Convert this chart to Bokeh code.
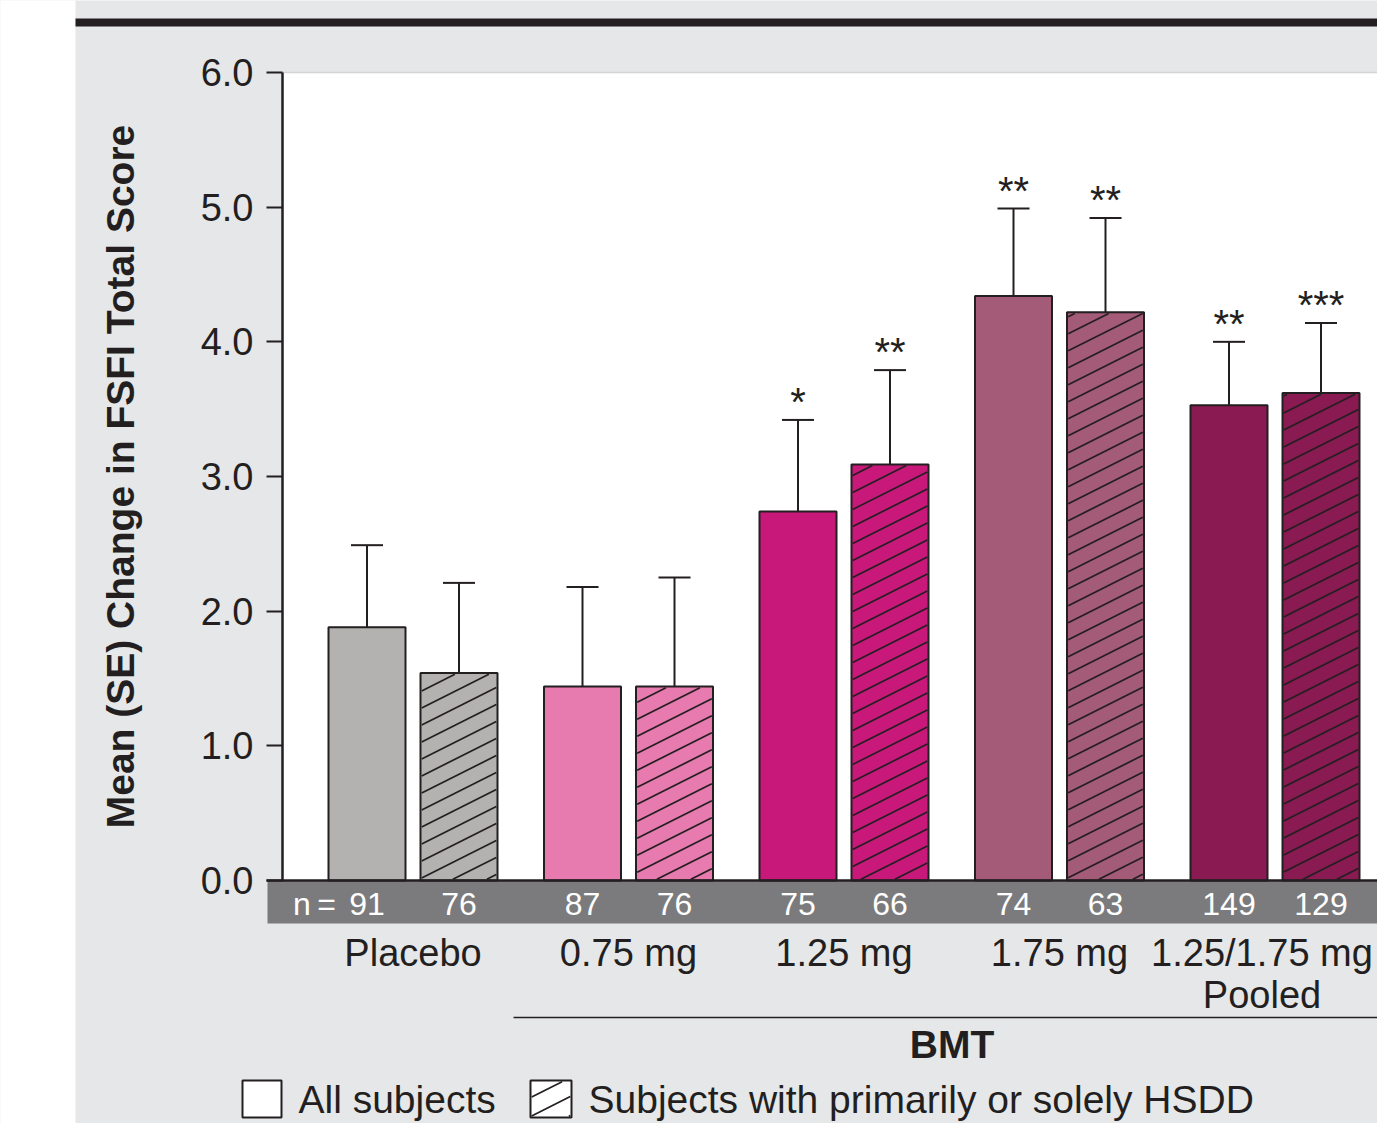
import numpy as np
from bokeh.plotting import figure
from bokeh.models import (Range1d, LinearAxis, FixedTicker, ColumnDataSource, Whisker, TeeHead,
                          NumeralTickFormatter)
from bokeh.core.properties import value
from bokeh.embed import file_html
from bokeh.resources import INLINE

# ---------------- data ----------------
GROUPS = ["Placebo", "0.75 mg", "1.25 mg", "1.75 mg", "1.25/1.75 mg\nPooled"]
MEAN_ALL = [1.88, 1.44, 2.74, 4.34, 3.53]
SE_ALL = [0.61, 0.74, 0.68, 0.65, 0.47]
MEAN_HSDD = [1.54, 1.44, 3.09, 4.22, 3.62]
SE_HSDD = [0.67, 0.81, 0.70, 0.70, 0.52]
N_ALL = [91, 87, 75, 74, 149]
N_HSDD = [76, 76, 66, 63, 129]
SIG_ALL = ["", "", "*", "**", "**"]
SIG_HSDD = ["", "", "**", "**", "***"]
BAR_COLORS = ["#b3b2b1", "#e77aae", "#c8197b", "#a35b78", "#891a52"]
Y_TICKS = [0.0, 1.0, 2.0, 3.0, 4.0, 5.0, 6.0]
Y_LABEL = "Mean (SE) Change in FSFI Total Score"
BRACKET_LABEL = "BMT"
LEGEND_LABELS = ["All subjects", "Subjects with primarily or solely HSDD"]

# ---------------- layout helpers ----------------
X0, GS = 412.5, 215.5          # pixel centre of first group, pixel spacing of groups
Y0, YS = 880.0, 808.0 / 6.0    # pixel of value 0, pixels per unit
W, H = 1377, 1123
FONT = value("Liberation Sans")
INK = "#231f20"


def gx(px):
    return (px - X0) / GS


def gw(px):
    return px / GS


def vy(py):
    return (Y0 - py) / YS


def px_x(x):
    return X0 + x * GS


def px_y(y):
    return Y0 - y * YS


def hatch_segments(L, R, T, B, spacing, slope=0.5, inset=1.2, phase=0.0):
    """Diagonal hatch lines (rising to the right) clipped to a pixel rectangle."""
    L, R, T, B = L + inset, R - inset, T + inset, B - inset
    out = [[], [], [], []]
    kmin = int(np.floor((slope * L + T - phase) / spacing)) - 1
    kmax = int(np.ceil((slope * R + B - phase) / spacing)) + 1
    for k in range(kmin, kmax + 1):
        c = k * spacing + phase
        xa = max(L, (c - B) / slope)
        xb = min(R, (c - T) / slope)
        if xb - xa > 0.5:
            out[0].append(gx(xa)); out[1].append(vy(c - slope * xa))
            out[2].append(gx(xb)); out[3].append(vy(c - slope * xb))
    return out


idx = np.arange(len(GROUPS), dtype=float)
DX = gw(46)
BW = gw(77)
x_all = idx - DX
x_hs = idx + DX

p = figure(width=W, height=H,
           x_range=Range1d(gx(0), gx(W)),
           y_range=Range1d(vy(H), vy(0)),
           x_axis_type=None, y_axis_type=None,
           toolbar_location=None, output_backend="svg", min_border=0)
p.background_fill_color = "#e6e7e9"
p.border_fill_color = "#ffffff"
p.outline_line_color = None

# page pieces
p.quad(left=[gx(-20)], right=[gx(75)], bottom=[vy(1300)], top=[vy(-20)],
       fill_color="#ffffff", line_color=None)
p.quad(left=[gx(75)], right=[gx(1500)], bottom=[vy(26)], top=[vy(18)],
       fill_color="#231f20", line_color=None)
p.quad(left=[gx(282)], right=[gx(1500)], bottom=[0], top=[6],
       fill_color="#ffffff", line_color=None)
p.segment(x0=[gx(282)], x1=[gx(1500)], y0=[6], y1=[6], line_color="#d4d4d4", line_width=1.5)
p.quad(left=[gx(267)], right=[gx(1500)], bottom=[vy(923)], top=[0],
       fill_color="#7b7b7d", line_color=None)

src_all = ColumnDataSource(dict(x=x_all, top=MEAN_ALL,
                                upper=np.array(MEAN_ALL) + np.array(SE_ALL),
                                color=BAR_COLORS, n=[str(v) for v in N_ALL], sig=SIG_ALL))
src_hs = ColumnDataSource(dict(x=x_hs, top=MEAN_HSDD,
                               upper=np.array(MEAN_HSDD) + np.array(SE_HSDD),
                               color=BAR_COLORS, n=[str(v) for v in N_HSDD], sig=SIG_HSDD))

p.vbar(x="x", top="top", bottom=0, width=BW, source=src_all, fill_color="color",
       line_color=INK, line_width=2)
p.vbar(x="x", top="top", bottom=0, width=BW, source=src_hs, fill_color="color",
       line_color=INK, line_width=2)

# hatch lines for the HSDD bars
hx0, hy0, hx1, hy1 = [], [], [], []
for xc, top in zip(x_hs, MEAN_HSDD):
    seg = hatch_segments(px_x(xc - BW / 2), px_x(xc + BW / 2), px_y(top), px_y(0), 17.0)
    hx0 += seg[0]; hy0 += seg[1]; hx1 += seg[2]; hy1 += seg[3]
p.segment(x0=hx0, y0=hy0, x1=hx1, y1=hy1, line_color=INK, line_width=1.7)

for src in (src_all, src_hs):
    w = Whisker(source=src, base="x", lower="top", upper="upper", dimension="height",
                line_color=INK, line_width=2, lower_head=None, level="annotation",
                upper_head=TeeHead(size=32, line_color=INK, line_width=2))
    p.add_layout(w)

# x axis line at 0
p.segment(x0=[gx(266)], x1=[gx(1500)], y0=[0], y1=[0], line_color=INK, line_width=2.5)

# significance stars
for src in (src_all, src_hs):
    p.text(x="x", y="upper", text="sig", source=src, y_offset=-18,
           text_font=FONT, text_font_size="40px", text_color=INK,
           text_align="center", text_baseline="alphabetic")

# n labels
for src in (src_all, src_hs):
    p.text(x="x", y=vy(903), text="n", source=src, text_font=FONT, text_font_size="32px",
           text_color="#ffffff", text_align="center", text_baseline="middle")
p.text(x=[x_all[0] - gw(31)], y=[vy(903)], text=["n\u2009="], text_font=FONT, text_font_size="32px",
       text_color="#ffffff", text_align="right", text_baseline="middle")

# group labels (last one nudged left so it stays inside the canvas)
grp_src = ColumnDataSource(dict(x=idx, y=[vy(931)] * len(GROUPS), t=GROUPS,
                                xoff=[0, 0, 0, 0, -13]))
p.text(x="x", y="y", text="t", x_offset="xoff", source=grp_src, text_font=FONT,
       text_font_size="38px", text_color=INK, text_align="center", text_baseline="top",
       text_line_height=1.0)

# BMT bracket
p.segment(x0=[gx(513)], x1=[gx(1390)], y0=[vy(1017)], y1=[vy(1017)], line_color=INK, line_width=1.5)
p.text(x=[(gx(513) + gx(1390)) / 2], y=[vy(1044)], text=[BRACKET_LABEL], text_font=FONT,
       text_font_size="39px", text_font_style="bold", text_color=INK,
       text_align="center", text_baseline="middle")

# y axis
yaxis = LinearAxis(ticker=FixedTicker(ticks=Y_TICKS), bounds=(0, 6), fixed_location=gx(282),
                   formatter=NumeralTickFormatter(format="0.0"))
yaxis.axis_label = Y_LABEL
yaxis.axis_label_text_font = "Liberation Sans"
yaxis.axis_label_text_font_size = "39px"
yaxis.axis_label_text_font_style = "bold"
yaxis.axis_label_text_color = INK
yaxis.axis_label_standoff = 56
yaxis.major_label_text_font = "Liberation Sans"
yaxis.major_label_text_font_size = "38px"
yaxis.major_label_text_color = INK
yaxis.major_label_standoff = 13
yaxis.axis_line_color = INK
yaxis.axis_line_width = 2.5
yaxis.major_tick_line_color = INK
yaxis.major_tick_line_width = 2
yaxis.major_tick_out = 16
yaxis.major_tick_in = 0
yaxis.minor_tick_out = 0
yaxis.minor_tick_in = 0
p.add_layout(yaxis, "left")

# legend (drawn by hand: plain box and hatched box), kept inside the canvas
LEG_BOX_L = [242, 530]
LEG_BOX_R = [281, 571]
LEG_T, LEG_B = 1080, 1117
LEG_TEXT_Y = 1099
p.quad(left=[gx(v) for v in LEG_BOX_L], right=[gx(v) for v in LEG_BOX_R],
       top=[vy(LEG_T)] * 2, bottom=[vy(LEG_B)] * 2,
       fill_color="#ffffff", line_color=INK, line_width=2)
lseg = hatch_segments(LEG_BOX_L[1], LEG_BOX_R[1], LEG_T, LEG_B, 19.0, slope=0.5,
                      phase=(LEG_B - 2 + 0.5 * (LEG_BOX_L[1] + 2)) % 19.0)
p.segment(x0=lseg[0], y0=lseg[1], x1=lseg[2], y1=lseg[3], line_color=INK, line_width=1.7)
p.text(x=[gx(298), gx(588)], y=[vy(LEG_TEXT_Y)] * 2, text=LEGEND_LABELS, text_font=FONT,
       text_font_size="39px", text_color=INK, text_align="left", text_baseline="middle")

open("out.html", "w").write(file_html(p, INLINE))
